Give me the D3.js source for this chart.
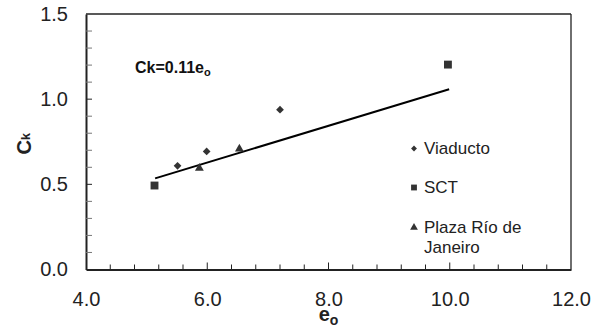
<!DOCTYPE html>
<html>
<head>
<meta charset="utf-8">
<script src="https://cdn.jsdelivr.net/npm/d3@7/dist/d3.min.js"></script>
<style>
  html, body { margin: 0; padding: 0; background: #fff; }
  svg { display: block; font-family: "Liberation Sans", Arial, sans-serif; }
</style>
</head>
<body>
<svg id="chart" width="595" height="330"></svg>
<script>
// ---- data ----
const viaductoE  = [5.51, 5.99, 7.20];
const viaductoCk = [0.609, 0.693, 0.938];
const sctE  = [5.13, 9.97];
const sctCk = [0.493, 1.203];
const plazaE  = [5.87, 6.53];
const plazaCk = [0.595, 0.708];
const fitE  = [5.14, 9.99];
const fitCk = [0.535, 1.058];
const xTicks = [4.0, 6.0, 8.0, 10.0, 12.0];
const yTicks = [0.0, 0.5, 1.0, 1.5];
const legendNames = ["Viaducto", "SCT", "Plaza Río de Janeiro"];

// ---- layout ----
const svg = d3.select("#chart");
const pLeft = 86, pRight = 571, pTop = 14, pBottom = 269.5;
const x = d3.scaleLinear().domain([4, 12]).range([pLeft, pRight]);
const y = d3.scaleLinear().domain([0, 1.5]).range([pBottom, pTop]);
const markColor = "#333";

// frame (top/right)
svg.append("line").attr("x1", pLeft).attr("x2", pRight).attr("y1", pTop).attr("y2", pTop)
  .attr("stroke", "#222").attr("stroke-width", 1.3);
svg.append("line").attr("x1", pRight).attr("x2", pRight).attr("y1", pTop).attr("y2", pBottom)
  .attr("stroke", "#222").attr("stroke-width", 1.3);

// minor ticks
const xMinor = d3.range(1, 20).map(i => 4 + i * 0.4);
const yMinor = d3.range(1, 15).map(i => i * 0.1);
const isMajorX = d => Math.abs(d / 2 - Math.round(d / 2)) < 1e-6;
const isMajorY = d => Math.abs(d * 2 - Math.round(d * 2)) < 1e-6;

// x axis
const xAxis = d3.axisBottom(x).tickValues(xTicks).tickFormat(d3.format(".1f")).tickSize(0).tickPadding(0);
const gx = svg.append("g").attr("transform", `translate(0,${pBottom})`).call(xAxis);
gx.select(".domain").attr("stroke", "#222").attr("stroke-width", 2);
gx.selectAll(".tick text").attr("font-size", 20).attr("fill", "#222")
  .attr("font-family", "Liberation Sans, Arial, sans-serif").attr("dy", null).attr("y", 36.5);
gx.selectAll(".minor").data(xMinor).enter().append("line").attr("class", "minor")
  .attr("x1", d => x(d)).attr("x2", d => x(d))
  .attr("y1", 0).attr("y2", d => isMajorX(d) ? -7 : -5)
  .attr("stroke", "#222").attr("stroke-width", 1);

// y axis
const yAxis = d3.axisLeft(y).tickValues(yTicks).tickFormat(d3.format(".1f")).tickSize(0).tickPadding(18);
const gy = svg.append("g").attr("transform", `translate(${pLeft},0)`).call(yAxis);
gy.select(".domain").attr("stroke", "#222").attr("stroke-width", 2);
gy.selectAll(".tick text").attr("font-size", 20).attr("fill", "#222")
  .attr("font-family", "Liberation Sans, Arial, sans-serif");
gy.selectAll(".minor").data(yMinor).enter().append("line").attr("class", "minor")
  .attr("x1", 0).attr("x2", 6)
  .attr("y1", d => y(d)).attr("y2", d => y(d))
  .attr("stroke", d => isMajorY(d) ? "#222" : "#777")
  .attr("stroke-width", 1);

// axis titles
const yt = svg.append("text").attr("transform", `translate(31,${(pTop + pBottom) / 2 + 2}) rotate(-90)`)
  .attr("text-anchor", "middle").attr("font-weight", "bold").attr("font-size", 20).attr("fill", "#222");
yt.append("tspan").text("C");
yt.append("tspan").attr("font-size", 13).attr("dy", -1).text("k");

const xt = svg.append("text").attr("x", (pLeft + pRight) / 2).attr("y", 321)
  .attr("text-anchor", "middle").attr("font-weight", "bold").attr("font-size", 20).attr("fill", "#222");
xt.append("tspan").text("e");
xt.append("tspan").attr("font-size", 14).attr("dy", 4).text("o");

// fit line
const fitData = fitE.map((e, i) => [e, fitCk[i]]);
svg.append("path").datum(fitData)
  .attr("d", d3.line().x(d => x(d[0])).y(d => y(d[1])))
  .attr("stroke", "#000").attr("stroke-width", 2).attr("fill", "none");

// equation label
const eq = svg.append("text").attr("x", 135).attr("y", 73)
  .attr("font-weight", "bold").attr("font-size", 16).attr("fill", "#111");
eq.append("tspan").text("Ck=0.11e");
eq.append("tspan").attr("font-size", 11).attr("dy", 3).text("o");

// series markers
const series = [
  { e: viaductoE, ck: viaductoCk, sym: d3.symbolDiamond2, size: 38, lsize: 22 },
  { e: sctE, ck: sctCk, sym: d3.symbolSquare, size: 62, lsize: 34 },
  { e: plazaE, ck: plazaCk, sym: d3.symbolTriangle, size: 34, lsize: 26 }
];
series.forEach(s => {
  svg.append("g").selectAll("path").data(s.e.map((e, i) => [e, s.ck[i]])).enter().append("path")
    .attr("d", d3.symbol().type(s.sym).size(s.size))
    .attr("transform", d => `translate(${x(d[0])},${y(d[1])})`)
    .attr("fill", markColor);
});

// legend
const legY = [148.5, 187.5, 227.5];
series.forEach((s, i) => {
  svg.append("path").attr("d", d3.symbol().type(s.sym).size(s.lsize)())
    .attr("transform", `translate(414,${legY[i]})`).attr("fill", markColor);
});
const legText = [["Viaducto"], ["SCT"], ["Plaza Río de", "Janeiro"]];
legText.forEach((lines, i) => {
  const t = svg.append("text").attr("x", 424).attr("y", legY[i] + 5.5)
    .attr("font-size", 17).attr("fill", "#222");
  lines.forEach((ln, j) => {
    t.append("tspan").attr("x", 424).attr("dy", j === 0 ? 0 : 20).text(ln);
  });
});
</script>
</body>
</html>
